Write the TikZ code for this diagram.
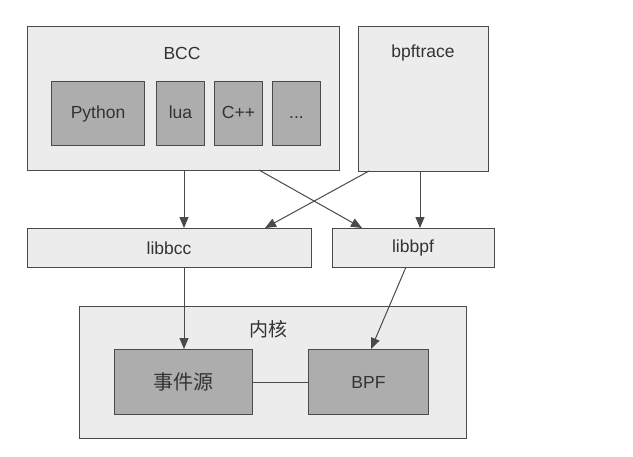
\documentclass[tikz,border=0pt]{standalone}
\usepackage{fontspec}
\setmainfont{Liberation Sans}
\newfontfamily\cjk{Noto Sans CJK SC}
\usetikzlibrary{arrows.meta}
\definecolor{outerfill}{HTML}{ECECEC}
\definecolor{innerfill}{HTML}{ADADAD}
\definecolor{edgegray}{HTML}{4A4A4A}
\definecolor{txtgray}{HTML}{333333}
\tikzset{
  outerbox/.style={draw=edgegray, fill=outerfill, line width=1pt},
  innerbox/.style={draw=edgegray, fill=innerfill, line width=1pt},
  lbl/.style={text=txtgray, font=\fontsize{17.5}{20}\selectfont},
  cjklbl/.style={text=txtgray, font=\cjk\fontsize{19}{22}\selectfont},
  conn/.style={draw=edgegray, line width=1pt, -{Triangle[length=11pt,width=9pt]}},
  plain/.style={draw=edgegray, line width=1pt}
}
\begin{document}
\begin{tikzpicture}[x=1pt,y=-1pt]
\useasboundingbox[fill=white] (0,0) rectangle (633,456);
% outer boxes
\node[outerbox, minimum width=312pt, minimum height=144pt, inner sep=0pt, anchor=north west] (bcc) at (27,26) {};
\node[outerbox, minimum width=130pt, minimum height=145pt, inner sep=0pt, anchor=north west] (bpft) at (358,26) {};
\node[outerbox, minimum width=284pt, minimum height=39pt, inner sep=0pt, anchor=north west] (libbcc) at (27,228) {};
\node[outerbox, minimum width=162pt, minimum height=39pt, inner sep=0pt, anchor=north west] (libbpf) at (332,228) {};
\node[outerbox, minimum width=387pt, minimum height=132pt, inner sep=0pt, anchor=north west] (kern) at (79,306) {};
% labels
\node[lbl] (bccl) at (182,53) {BCC};
\node[lbl] (bpftl) at (423,53) {bpftrace};
\node[lbl] (libbccl) at (169,248) {libbcc};
\node[lbl] (libbpfl) at (413,248) {libbpf};
\node[cjklbl] (kernl) at (268,329) {内核};
% inner boxes
\node[innerbox, lbl, minimum width=93pt, minimum height=64pt, inner sep=0pt, anchor=north west] (py) at (51,81) {Python};
\node[innerbox, lbl, minimum width=48pt, minimum height=64pt, inner sep=0pt, anchor=north west] (lua) at (156,81) {\vphantom{Python}lua};
\node[innerbox, lbl, minimum width=48pt, minimum height=64pt, inner sep=0pt, anchor=north west] (cpp) at (214,81) {\vphantom{Python}C++};
\node[innerbox, lbl, minimum width=48pt, minimum height=64pt, inner sep=0pt, anchor=north west] (dots) at (272,81) {\vphantom{Python}...};
\node[innerbox, cjklbl, font=\cjk\fontsize{20}{23}\selectfont, minimum width=138pt, minimum height=65pt, inner sep=0pt, anchor=north west] (evt) at (114,349) {事件源};
\node[innerbox, lbl, minimum width=120pt, minimum height=65pt, inner sep=0pt, anchor=north west] (bpf) at (308,349) {BPF};
% connectors
\coordinate (a1) at (184,170);
\coordinate (a1e) at (184,228);
\coordinate (a2) at (259,170);
\coordinate (a2e) at (362,228);
\coordinate (a3) at (369,171);
\coordinate (a3e) at (265,228);
\coordinate (a4) at (420,171);
\coordinate (a4e) at (420,228);
\coordinate (a5) at (184,267);
\coordinate (a5e) at (184,349);
\coordinate (a6) at (406,267);
\coordinate (a6e) at (371,349);
\draw[conn] (a1) -- (a1e);
\draw[conn] (a2) -- (a2e);
\draw[conn] (a3) -- (a3e);
\draw[conn] (a4) -- (a4e);
\draw[conn] (a5) -- (a5e);
\draw[conn] (a6) -- (a6e);
\draw[plain] (evt.east) -- (bpf.west);
\end{tikzpicture}
\end{document}
